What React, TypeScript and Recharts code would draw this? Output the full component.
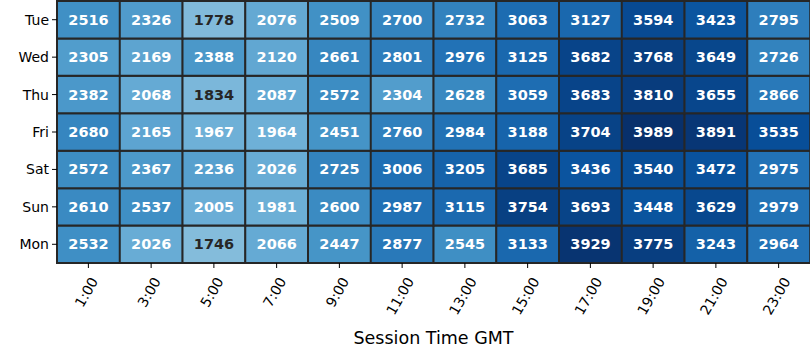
import React from "react";
import { BarChart, Bar, XAxis, YAxis, Cell, LabelList, Label } from "recharts";

const hours = ["1:00", "3:00", "5:00", "7:00", "9:00", "11:00", "13:00", "15:00", "17:00", "19:00", "21:00", "23:00"];
// top to bottom, as shown
const days = ["Tue", "Wed", "Thu", "Fri", "Sat", "Sun", "Mon"];

const tue = [2516, 2326, 1778, 2076, 2509, 2700, 2732, 3063, 3127, 3594, 3423, 2795];
const wed = [2305, 2169, 2388, 2120, 2661, 2801, 2976, 3125, 3682, 3768, 3649, 2726];
const thu = [2382, 2068, 1834, 2087, 2572, 2304, 2628, 3059, 3683, 3810, 3655, 2866];
const fri = [2680, 2165, 1967, 1964, 2451, 2760, 2984, 3188, 3704, 3989, 3891, 3535];
const sat = [2572, 2367, 2236, 2026, 2725, 3006, 3205, 3685, 3436, 3540, 3472, 2975];
const sun = [2610, 2537, 2005, 1981, 2600, 2987, 3115, 3754, 3693, 3448, 3629, 2979];
const mon = [2532, 2026, 1746, 2066, 2447, 2877, 2545, 3133, 3929, 3775, 3243, 2964];

const byDay: Record<string, number[]> = { Tue: tue, Wed: wed, Thu: thu, Fri: fri, Sat: sat, Sun: sun, Mon: mon };

// matplotlib "Blues"
const BLUES = ["#f7fbff", "#deebf7", "#c6dbef", "#9ecae1", "#6baed6", "#4292c6", "#2171b5", "#08519c", "#08306b"];
const VMIN = 0;
const VMAX = 3989;
const FONT = "DejaVu Sans, sans-serif";
const EDGE = "#262626";

function hexToRgb(h: string) {
  return [1, 3, 5].map((i) => parseInt(h.slice(i, i + 2), 16));
}

function blues(v: number) {
  const t = Math.min(1, Math.max(0, (v - VMIN) / (VMAX - VMIN))) * (BLUES.length - 1);
  const i = Math.min(BLUES.length - 2, Math.floor(t));
  const f = t - i;
  const a = hexToRgb(BLUES[i]);
  const b = hexToRgb(BLUES[i + 1]);
  return a.map((c, k) => Math.round(c + (b[k] - c) * f));
}

function colorOf(v: number) {
  const [r, g, b] = blues(v);
  return `rgb(${r},${g},${b})`;
}

function textColorOf(v: number) {
  const lin = blues(v).map((c) => {
    const s = c / 255;
    return s <= 0.03928 ? s / 12.92 : Math.pow((s + 0.055) / 1.055, 2.4);
  });
  const lum = 0.2126 * lin[0] + 0.7152 * lin[1] + 0.0722 * lin[2];
  return lum > 0.408 ? EDGE : "#ffffff";
}

// each cell is one unit of the stack
const rows = hours.map((h) => {
  const r: Record<string, string | number> = { hour: h };
  days.forEach((d) => (r[d] = 1));
  return r;
});

const stackOrder = [...days].reverse(); // bottom first
const yTicks = stackOrder.map((_, i) => i + 0.5);

// rotated 60deg, box top hangs just below the tick (like matplotlib ha=center)
function HourTick(props: any) {
  const { x, y, payload } = props;
  const s = String(payload.value);
  let w = 0;
  for (const ch of s) w += ch === ":" ? 0.337 : 0.636;
  w *= 14;
  const cx = x - 2;
  const cy = y + 6 + (w * 0.866 + 10 * 0.5) / 2;
  return (
    <text
      x={cx}
      y={cy}
      transform={`rotate(-60, ${cx}, ${cy})`}
      textAnchor="middle"
      dominantBaseline="central"
      fontSize={14}
      fontFamily={FONT}
      fill="#000"
    >
      {s}
    </text>
  );
}

export default function App() {
  return (
    <div style={{ position: "absolute", left: 0, top: 0, background: "#fff" }}>
      <BarChart
        width={810}
        height={360}
        data={rows}
        margin={{ top: 1, right: 0, left: 0, bottom: 0 }}
        barCategoryGap={0}
      >
        <XAxis
          dataKey="hour"
          interval={0}
          height={97}
          axisLine={false}
          tickLine={{ stroke: "#000" }}
          tickSize={5}
          tickMargin={2}
          tick={<HourTick />}
        >
          <Label
            value="Session Time GMT"
            position="insideBottom"
            offset={16}
            style={{ fontSize: 17.5, fontFamily: FONT, fill: "#000" }}
          />
        </XAxis>
        <YAxis
          type="number"
          domain={[0, 7]}
          ticks={yTicks}
          width={57}
          axisLine={false}
          tickLine={{ stroke: "#000" }}
          tickSize={5}
          tickMargin={3}
          tickFormatter={(v: number) => stackOrder[Math.floor(v)]}
          tick={{ fontSize: 14, fontFamily: FONT, fill: "#000" }}
        />
        {stackOrder.map((day) => (
          <Bar key={day} dataKey={day} stackId="a" isAnimationActive={false}>
            {byDay[day].map((v, i) => (
              <Cell key={i} fill={colorOf(v)} stroke={EDGE} strokeWidth={2} />
            ))}
            <LabelList
              dataKey={day}
              content={(p: any) => {
                const v = byDay[day][p.index];
                return (
                  <text
                    x={p.x + p.width / 2}
                    y={p.y + p.height / 2}
                    textAnchor="middle"
                    dominantBaseline="central"
                    fontSize={14.5}
                    fontWeight="bold"
                    fontFamily={FONT}
                    fill={textColorOf(v)}
                  >
                    {v}
                  </text>
                );
              }}
            />
          </Bar>
        ))}
      </BarChart>
    </div>
  );
}
